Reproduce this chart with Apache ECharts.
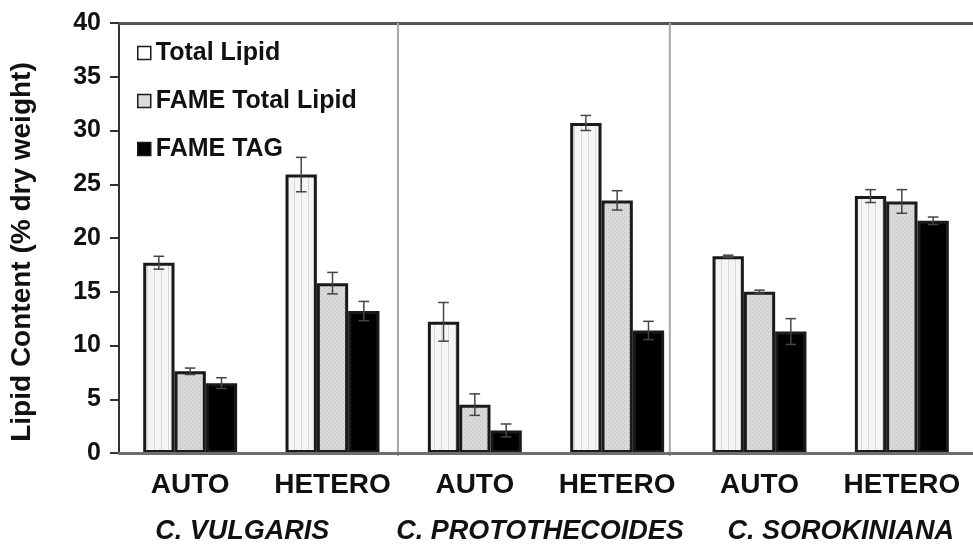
<!DOCTYPE html>
<html>
<head>
<meta charset="utf-8">
<script src="https://cdn.jsdelivr.net/npm/echarts@6/dist/echarts.min.js"></script>
<style>html,body{margin:0;padding:0;background:#fff}#c{width:973px;height:546px}</style>
</head>
<body>
<div id="c"></div>
<script>
// ---- data ----
const conditions = ['AUTO', 'HETERO', 'AUTO', 'HETERO', 'AUTO', 'HETERO'];
const species = ['C. VULGARIS', 'C. PROTOTHECOIDES', 'C. SOROKINIANA'];
const seriesNames = ['Total Lipid', 'FAME Total Lipid', 'FAME TAG'];
const totalLipid = [17.7, 25.9, 12.2, 30.7, 18.3, 23.9];
const totalLipidErr = [0.6, 1.6, 1.8, 0.7, 0.1, 0.6];
const fameTotalLipid = [7.6, 15.8, 4.5, 23.5, 15.0, 23.4];
const fameTotalLipidErr = [0.3, 1.0, 1.0, 0.9, 0.15, 1.1];
const fameTag = [6.5, 13.2, 2.1, 11.4, 11.3, 21.6];
const fameTagErr = [0.5, 0.9, 0.6, 0.85, 1.2, 0.35];
const yTicks = [0, 5, 10, 15, 20, 25, 30, 35, 40];
const separators = [1.96, 3.87]; // group dividers on a 0..6 category scale

// ---- patterns ----
function stripePattern() {
  const c = document.createElement('canvas');
  c.width = 7; c.height = 4;
  const g = c.getContext('2d');
  g.fillStyle = '#f5f5f5'; g.fillRect(0, 0, 7, 4);
  g.fillStyle = '#d8d8d8'; g.fillRect(0, 0, 1, 4);
  return c;
}
function dotPattern() {
  const c = document.createElement('canvas');
  c.width = 4; c.height = 4;
  const g = c.getContext('2d');
  g.fillStyle = '#d9d9d9'; g.fillRect(0, 0, 4, 4);
  g.fillStyle = '#bdbdbd';
  g.fillRect(0, 0, 1, 1); g.fillRect(2, 2, 1, 1);
  return c;
}
const fills = [
  { image: stripePattern(), repeat: 'repeat' },
  { image: dotPattern(), repeat: 'repeat' },
  '#000000'
];
const legendFills = ['#ffffff', '#dcdcdc', '#000000'];
const values = [totalLipid, fameTotalLipid, fameTag];
const errs = [totalLipidErr, fameTotalLipidErr, fameTagErr];
// label nudges (text style only) for species labels
const speciesLabelPadding = [[0, 38, 0, 0], [0, 12, 0, 0], [0, 0, 0, 20]];

const FONT = 'Liberation Sans, Arial, sans-serif';
const GAP = 0.34;

const chart = echarts.init(document.getElementById('c'), null, { renderer: 'canvas' });

const barSeries = seriesNames.map((name, i) => ({
  name: name,
  type: 'bar',
  xAxisIndex: 0,
  yAxisIndex: 0,
  barGap: '0%',
  barCategoryGap: (GAP * 100) + '%',
  data: values[i],
  itemStyle: { color: fills[i], borderColor: '#1a1a1a', borderWidth: 3 },
  emphasis: { disabled: true },
  z: 2
}));

const errSeries = seriesNames.map((name, i) => ({
  type: 'custom',
  xAxisIndex: 0,
  yAxisIndex: 0,
  silent: true,
  z: 5,
  data: values[i].map((v, k) => [k, v, errs[i][k]]),
  renderItem: function (params, api) {
    const k = api.value(0), v = api.value(1), e = api.value(2);
    const band = api.size([1, 0])[0];
    const bw = band * (1 - GAP) / 3;
    const cx = api.coord([k, v])[0] + (i - 1) * bw;
    const yt = api.coord([k, v + e])[1];
    const yb = api.coord([k, v - e])[1];
    const cap = bw * 0.17;
    const st = { stroke: '#444', lineWidth: 1.5 };
    return {
      type: 'group',
      children: [
        { type: 'line', shape: { x1: cx, y1: yt, x2: cx, y2: yb }, style: st },
        { type: 'line', shape: { x1: cx - cap, y1: yt, x2: cx + cap, y2: yt }, style: st },
        { type: 'line', shape: { x1: cx - cap, y1: yb, x2: cx + cap, y2: yb }, style: st }
      ]
    };
  }
}));

const sepSeries = {
  type: 'custom',
  xAxisIndex: 2,
  yAxisIndex: 0,
  silent: true,
  z: 1,
  data: separators.map(s => [s]),
  renderItem: function (params, api) {
    const x = api.value(0);
    const p0 = api.coord([x, 0]);
    const p1 = api.coord([x, 40]);
    return { type: 'line', shape: { x1: p0[0], y1: p0[1] + 3, x2: p1[0], y2: p1[1] },
      style: { stroke: '#a8a8a8', lineWidth: 2 } };
  }
};

chart.setOption({
  animation: false,
  backgroundColor: '#ffffff',
  grid: { left: 117, top: 23, width: 863, bottom: 93 },
  legend: {
    orient: 'vertical',
    left: 132,
    top: 35,
    icon: 'rect',
    itemWidth: 13,
    itemHeight: 13,
    itemGap: 22,
    selectedMode: false,
    data: seriesNames.map((n, i) => ({ name: n, icon: 'rect', itemStyle: { borderWidth: 1.5, borderColor: '#1a1a1a', color: legendFills[i] } })),
    textStyle: { fontFamily: FONT, fontWeight: 'bold', fontSize: 25, color: '#111', lineHeight: 26 }
  },
  xAxis: [
    {
      type: 'category',
      data: conditions,
      position: 'bottom',
      axisLine: { show: true, lineStyle: { color: '#6e6e6e', width: 3 } },
      axisTick: { show: false },
      axisLabel: { interval: 0, margin: 18, fontFamily: FONT, fontWeight: 'bold', fontSize: 28, color: '#111' },
      splitLine: { show: false },
      z: 3
    },
    {
      type: 'category',
      data: species.map((s, k) => ({ value: s, textStyle: { padding: speciesLabelPadding[k] } })),
      position: 'bottom',
      axisLine: { show: false },
      axisTick: { show: false },
      axisLabel: { interval: 0, margin: 65, fontFamily: FONT, fontWeight: 'bold', fontStyle: 'italic', fontSize: 27, color: '#111' },
      splitLine: { show: false }
    },
    {
      type: 'value',
      position: 'top',
      min: 0,
      max: 6,
      axisLine: { show: true, onZero: false, lineStyle: { color: '#555', width: 3 } },
      axisTick: { show: false },
      axisLabel: { show: false },
      splitLine: { show: false }
    }
  ],
  yAxis: {
    type: 'value',
    min: yTicks[0],
    max: yTicks[yTicks.length - 1],
    interval: yTicks[1] - yTicks[0],
    name: 'Lipid Content (% dry weight)',
    nameLocation: 'middle',
    nameGap: 83,
    nameTextStyle: { fontFamily: FONT, fontWeight: 'bold', fontSize: 28, color: '#111', padding: [0, 28, 0, 0] },
    axisLine: { show: true, lineStyle: { color: '#333', width: 2 } },
    axisTick: { show: true, inside: false, length: 9, lineStyle: { color: '#333', width: 2 } },
    axisLabel: { margin: 18, fontFamily: FONT, fontWeight: 'bold', fontSize: 25, color: '#111' },
    splitLine: { show: false }
  },
  series: [sepSeries].concat(barSeries, errSeries)
});
</script>
</body>
</html>
